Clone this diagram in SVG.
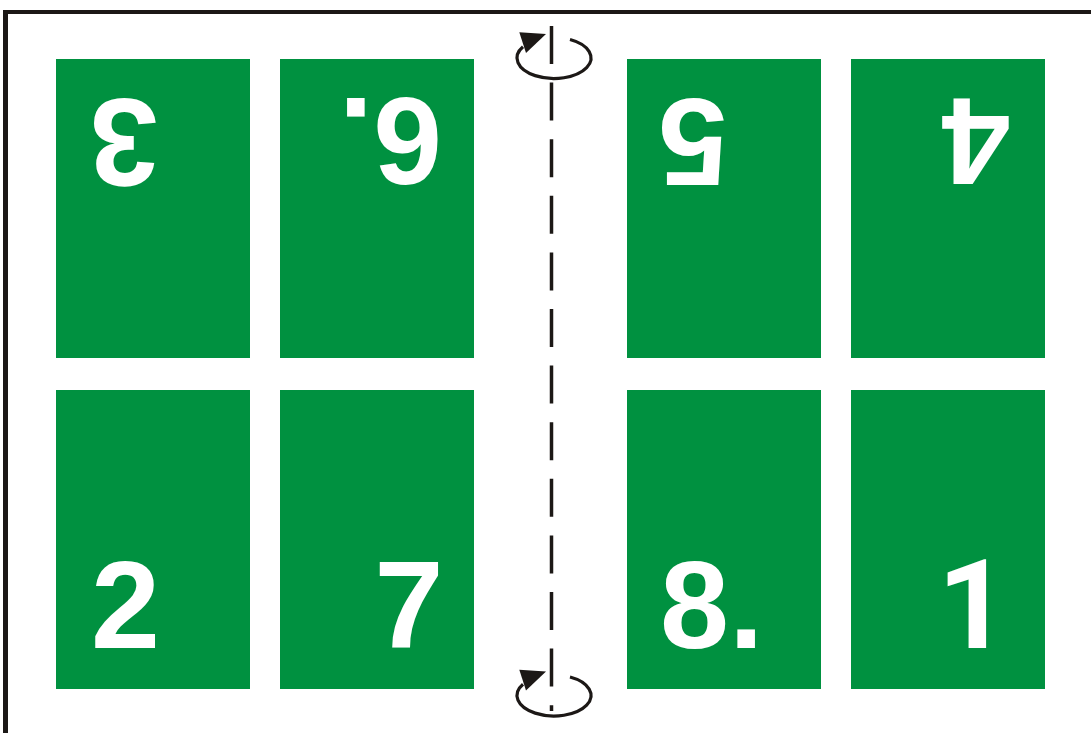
<svg xmlns="http://www.w3.org/2000/svg" width="1091" height="733" viewBox="0 0 1091 733">
<style>
.page{fill:#009140}
.num{fill:#ffffff;font-family:"Liberation Sans",Arial,sans-serif;font-weight:bold;font-size:124px}
.one{font-family:Roboto,"Liberation Sans",Arial,sans-serif}
.ink{stroke:#1c1816;fill:none}
</style>
<defs>
<g id="rot">
<path class="ink" stroke-width="3.2" d="M16,-18.5 A37,20.5 0 1 1 -31,-11.2"/>
<polygon fill="#1c1816" points="-34.7,-25.7 -8,-24 -28,-5"/>
</g>
</defs>
<rect width="1091" height="733" fill="#ffffff"/>
<g id="frame">
<rect x="3" y="10" width="5" height="723" fill="#1c1816"/>
<rect x="3" y="10" width="1088" height="4" fill="#1c1816"/>
</g>
<g id="p3"><rect class="page" x="56" y="59" width="194" height="299"/><text class="num" x="124" y="99" text-anchor="middle" transform="rotate(180 124 99)">3</text></g>
<g id="p6"><rect class="page" x="280" y="59" width="194" height="299"/><text class="num" x="442" y="98" transform="rotate(180 442 98)">6.</text></g>
<g id="p5"><rect class="page" x="627" y="59" width="194" height="299"/><text class="num" x="693" y="99" text-anchor="middle" transform="rotate(180 693 99)">5</text></g>
<g id="p4"><rect class="page" x="851" y="59" width="194" height="299"/><text class="num" x="976" y="99" text-anchor="middle" transform="rotate(180 976 99)">4</text></g>
<g id="p2"><rect class="page" x="56" y="390" width="194" height="299"/><text class="num" x="125.5" y="648" text-anchor="middle">2</text></g>
<g id="p7"><rect class="page" x="280" y="390" width="194" height="299"/><text class="num" x="409" y="648" text-anchor="middle">7</text></g>
<g id="p8"><rect class="page" x="627" y="390" width="194" height="299"/><text class="num" x="660" y="648">8.</text></g>
<g id="p1"><rect class="page" x="851" y="390" width="194" height="299"/><text class="num one" x="973" y="648" text-anchor="middle">1</text></g>
<g id="connectors">
<line class="ink" x1="551.5" y1="26" x2="551.5" y2="711" stroke-width="3.5" stroke-dasharray="38 18.6"/>
<use href="#rot" x="554" y="58"/>
<use href="#rot" x="554" y="695.5"/>
</g>
</svg>
